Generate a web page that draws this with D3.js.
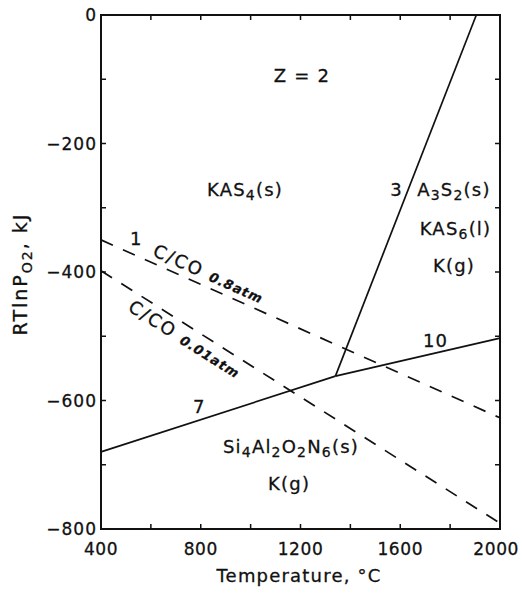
<!DOCTYPE html>
<html>
<head>
<meta charset="utf-8">
<script src="https://cdn.jsdelivr.net/npm/d3@7"></script>
<style>
  body { margin: 0; background: #fff; }
  text { font-family: "DejaVu Sans", sans-serif; fill: #111; stroke: #111; stroke-width: 0.3; }
</style>
</head>
<body>
<svg id="chart" width="522" height="599"></svg>
<script>
// axis domain and ticks
var xTicks = [400, 600, 800, 1000, 1200, 1400, 1600, 1800, 2000]
  , xLabels = [400, 800, 1200, 1600, 2000]
  , yTicks = [0, -100, -200, -300, -400, -500, -600, -700, -800]
  , yLabels = [0, -200, -400, -600, -800]

// phase boundaries (T in °C, RTlnPO2 in kJ)
var line7 = [[400, -680], [1340, -562]]
  , line10 = [[1340, -562], [2000, -503]]
  , line3 = [[1340, -562], [1905, 0]]
  , coHigh = [[400, -350], [2000, -627]]   // C/CO 0.8 atm
  , coLow = [[400, -398], [2000, -791]]    // C/CO 0.01 atm

var svg = d3.select('#chart')
  , pL = 101, pR = 500, pT = 15, pB = 529

var x = d3.scaleLinear().domain([400, 2000]).range([pL, pR])
var y = d3.scaleLinear().domain([-800, 0]).range([pB, pT])

var line = d3.line()
  .x(function (d) { return x(d[0]) })
  .y(function (d) { return y(d[1]) })

// frame
svg.append('rect')
  .attr('x', pL).attr('y', pT)
  .attr('width', pR - pL).attr('height', pB - pT)
  .attr('fill', 'none').attr('stroke', '#111').attr('stroke-width', 2)

// inward ticks on all four sides
var tl = 5
svg.append('g').attr('stroke', '#111').attr('stroke-width', 1.5)
  .selectAll('path')
  .data(xTicks.slice(1, -1)).enter()
  .append('path')
  .attr('d', function (d) {
    return 'M' + x(d) + ',' + pB + 'v' + (-tl) + 'M' + x(d) + ',' + pT + 'v' + tl
  })
svg.append('g').attr('stroke', '#111').attr('stroke-width', 1.5)
  .selectAll('path')
  .data(yTicks.slice(1, -1)).enter()
  .append('path')
  .attr('d', function (d) {
    return 'M' + pL + ',' + y(d) + 'h' + tl + 'M' + pR + ',' + y(d) + 'h' + (-tl)
  })

// tick labels
svg.append('g').selectAll('text')
  .data(xLabels).enter()
  .append('text')
  .attr('x', function (d) { return x(d) })
  .attr('y', 555)
  .attr('text-anchor', 'middle')
  .attr('font-size', 17)
  .attr('letter-spacing', 0.6)
  .text(function (d) { return d })
  .each(function () {
    // keep the last label inside the picture
    var b = this.getBBox()
    if (b.x + b.width > 519) d3.select(this).attr('dx', 519 - b.x - b.width)
  })

svg.append('g').selectAll('text')
  .data(yLabels).enter()
  .append('text')
  .attr('x', 97)
  .attr('y', function (d) { return y(d) + 6 })
  .attr('text-anchor', 'end')
  .attr('font-size', 17)
  .attr('letter-spacing', 1)
  .text(function (d) { return d === 0 ? '0' : '\u2212' + Math.abs(d) })

// axis titles
svg.append('text')
  .attr('x', 299).attr('y', 582)
  .attr('text-anchor', 'middle')
  .attr('font-size', 18)
  .attr('letter-spacing', 1.2)
  .text('Temperature,  °C')

var yt = svg.append('text')
  .attr('transform', 'translate(27,274) rotate(-90)')
  .attr('text-anchor', 'middle')
  .attr('font-size', 19)
  .attr('letter-spacing', 2)
yt.append('tspan').text('RTlnP')
yt.append('tspan').attr('font-size', 14).attr('dy', 5).text('O2')
yt.append('tspan').attr('dy', -5).text(',   kJ')

// boundaries
svg.append('g').selectAll('path')
  .data([line7, line10, line3]).enter()
  .append('path')
  .attr('d', line)
  .attr('fill', 'none').attr('stroke', '#111').attr('stroke-width', 1.7)

svg.append('g').selectAll('path')
  .data([coHigh, coLow]).enter()
  .append('path')
  .attr('d', line)
  .attr('fill', 'none').attr('stroke', '#111').attr('stroke-width', 1.7)
  .attr('stroke-dasharray', '13,11')

// region and line labels: [T, kJ, parts]; parts are [text, isSub]
var labels = [
  [1206, -104, [['Z = 2']], 'middle'],
  [825, -282, [['KAS'], ['4', 1], ['(s)']]],
  [1560, -282, [['3']]],
  [1668, -282, [['A'], ['3', 1], ['S'], ['2', 1], ['(s)']]],
  [1678, -343, [['KAS'], ['6', 1], ['(l)']]],
  [1731, -400, [['K(g)']]],
  [516, -358, [['1']]],
  [769, -619, [['7']]],
  [1691, -517, [['10']]],
  [889, -682, [['Si'], ['4', 1], ['Al'], ['2', 1], ['O'], ['2', 1], ['N'], ['6', 1], ['(s)']]],
  [1070, -739, [['K(g)']]]
]

svg.append('g').selectAll('text')
  .data(labels).enter()
  .append('text')
  .attr('x', function (d) { return x(d[0]) })
  .attr('y', function (d) { return y(d[1]) })
  .attr('text-anchor', function (d) { return d[3] || 'start' })
  .attr('font-size', 18)
  .attr('letter-spacing', 1.2)
  .each(function (d) {
    var el = d3.select(this), prevSub = false
    d[2].forEach(function (p) {
      var sub = !!p[1]
      el.append('tspan')
        .attr('font-size', sub ? 14 : 18)
        .attr('dy', sub === prevSub ? 0 : (sub ? 4 : -4))
        .text(p[0])
      prevSub = sub
    })
  })

// rotated labels along the C/CO lines
function angle (seg) {
  return Math.atan2(y(seg[1][1]) - y(seg[0][1]), x(seg[1][0]) - x(seg[0][0])) * 180 / Math.PI
}

var coLabels = [
  [coHigh, 604, -374, '0.8atm'],
  [coLow, 504, -459, '0.01atm']
]

coLabels.forEach(function (c) {
  var t = svg.append('text')
    .attr('transform', 'translate(' + x(c[1]) + ',' + y(c[2]) + ') rotate(' + angle(c[0]) + ')')
    .attr('font-size', 18)
    .attr('letter-spacing', 2)
  t.append('tspan').text('C/CO')
  t.append('tspan').attr('dx', 8).attr('font-size', 13).attr('letter-spacing', 1)
    .attr('font-style', 'italic').attr('font-weight', 'bold').text(c[3])
})
</script>
</body>
</html>
